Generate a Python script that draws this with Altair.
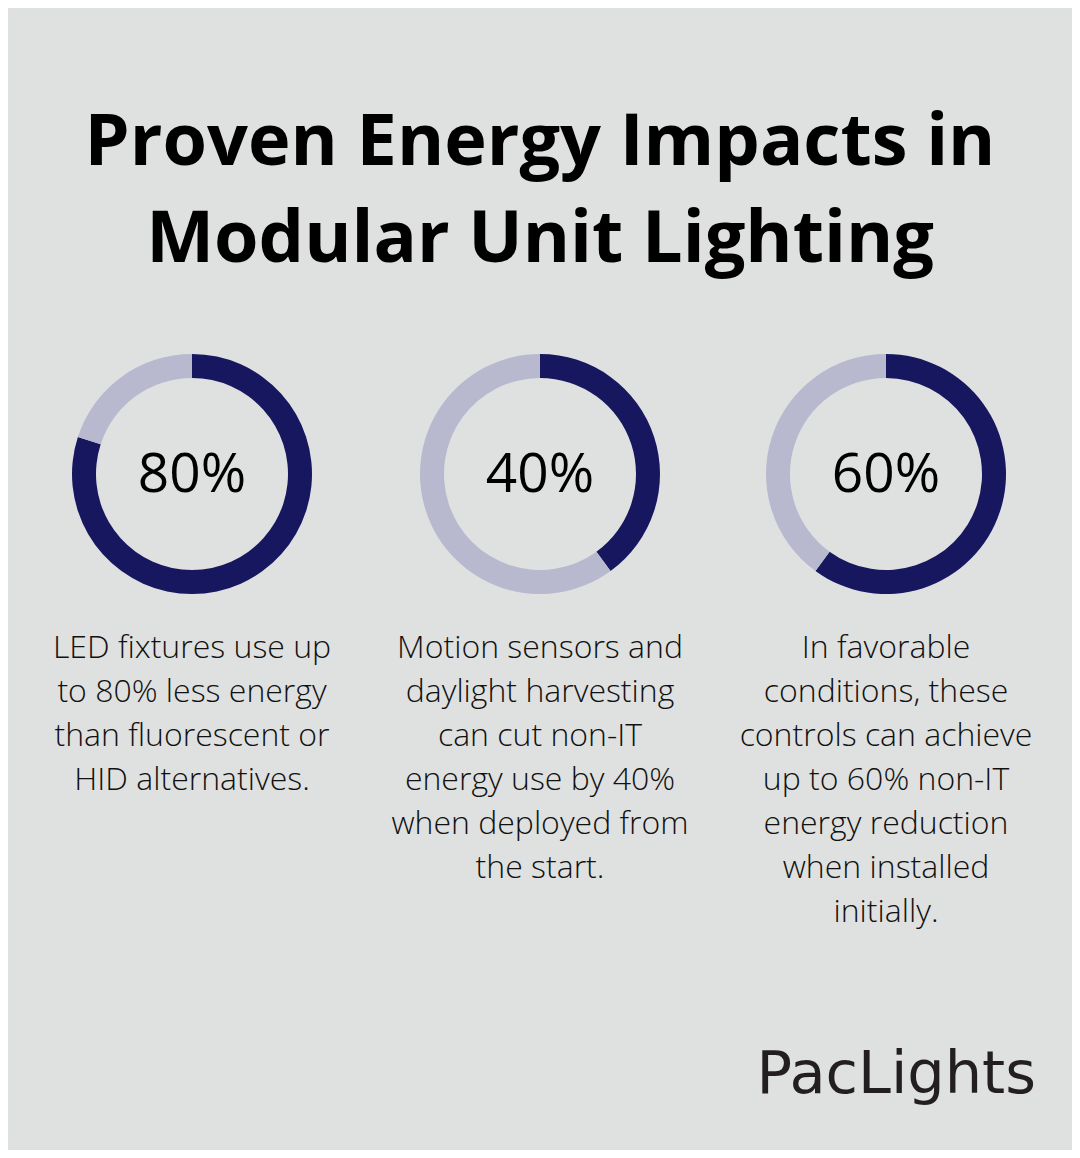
import altair as alt
import pandas as pd

# ---- data ----
pct_values = [80, 40, 60]
pct_labels = ["80%", "40%", "60%"]
descriptions = [
    ["LED fixtures use up", "to 80% less energy", "than fluorescent or", "HID alternatives."],
    ["Motion sensors and", "daylight harvesting", "can cut non-IT", "energy use by 40%", "when deployed from", "the start."],
    ["In favorable", "conditions, these", "controls can achieve", "up to 60% non-IT", "energy reduction", "when installed", "initially."],
]
title_lines = ["Proven Energy Impacts in", "Modular Unit Lighting"]
brand = "PacLights"

# ---- style ----
BG = "#dfe1e0"
DARK = "#17175f"
LIGHT = "#b8b9cf"
TEXT = "#111111"
M = 8  # page margin
centers_x = [192, 540, 886]
center_y = 474
FONT = "Open Sans"

layers = []

# Title
for i, line in enumerate(title_lines):
    layers.append(
        alt.Chart(pd.DataFrame({"t": [line]})).mark_text(
            font=FONT, fontSize=72, fontWeight="bold", color="#000000",
            align="center", baseline="alphabetic"
        ).encode(text="t:N", x=alt.value(540 - M), y=alt.value(165 + i * 97 - M))
    )

for i, v in enumerate(pct_values):
    cx = centers_x[i] - M
    cy = center_y - M
    df = pd.DataFrame({"part": ["saved", "rest"], "value": [v, 100 - v], "ord": [0, 1]})
    donut = alt.Chart(df).mark_arc(outerRadius=120, innerRadius=96).encode(
        theta=alt.Theta("value:Q", stack=True),
        order=alt.Order("ord:Q"),
        color=alt.Color("part:N", scale=alt.Scale(domain=["saved", "rest"], range=[DARK, LIGHT]), legend=None),
        x=alt.value(cx),
        y=alt.value(cy),
    )
    layers.append(donut)
    layers.append(
        alt.Chart(pd.DataFrame({"t": [pct_labels[i]]})).mark_text(
            font=FONT, fontSize=55, fontWeight=500, color="#000000",
            align="center", baseline="alphabetic"
        ).encode(text="t:N", x=alt.value(cx), y=alt.value(492 - M))
    )
    layers.append(
        alt.Chart(pd.DataFrame({"t": ["\n".join(descriptions[i])]})).mark_text(
            font=FONT, fontSize=32, fontWeight=300, color=TEXT,
            align="center", baseline="alphabetic", lineBreak="\n", lineHeight=44
        ).encode(text="t:N", x=alt.value(cx), y=alt.value(658 - M))
    )

# Brand
layers.append(
    alt.Chart(pd.DataFrame({"t": [brand]})).mark_text(
        font="DejaVu Sans", fontSize=59, color="#231f20",
        align="right", baseline="alphabetic"
    ).encode(text="t:N", x=alt.value(1036 - M), y=alt.value(1093 - M))
)

chart = alt.layer(*layers).properties(
    width=1064, height=1142, background=BG, padding=0,
    autosize=alt.AutoSizeParams(type="none"),
).configure_view(stroke=None)

chart.save("out.html", embed_options={"renderer": "svg", "actions": False})
